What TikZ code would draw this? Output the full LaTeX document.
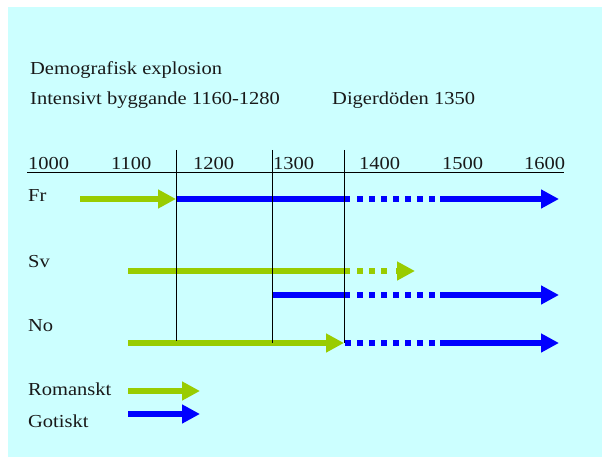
\documentclass[tikz,border=0pt]{standalone}
\usepackage{fontspec}
\setmainfont[FakeStretch=1.12]{Liberation Serif}
\usetikzlibrary{arrows.meta}
\definecolor{bgc}{HTML}{CCFFFF}
\definecolor{rom}{HTML}{99CC00}
\definecolor{got}{HTML}{0000FF}
\begin{document}
\begin{tikzpicture}[x=1pt,y=-1pt,
  lbl/.style={anchor=base west,inner sep=0pt,font=\fontsize{18.3}{20}\selectfont,text=black!90},
  romline/.style={draw=rom,line width=5.5pt},
  gotline/.style={draw=got,line width=5.5pt},
  tip/.style={-{Triangle[length=18pt,width=18pt]}},
  dots/.style={dash pattern=on 6pt off 6pt},
  vline/.style={draw=black,line width=1pt}]
\useasboundingbox (0,0) rectangle (602,457);
\fill[white] (0,0) rectangle (602,457);
\fill[bgc] (8,7) rectangle (602,457);
% texts
\node[lbl] (t1) at (30,75) {Demografisk explosion};
\node[lbl] (t2) at (30,105) {Intensivt byggande 1160-1280};
\node[lbl] (t3) at (332,105) {Digerdöden 1350};
\foreach \x/\y in {28/1000,111/1100,193/1200,273/1300,359/1400,442/1500,524/1600}
  \node[lbl] (y\y) at (\x,170) {\y};
\node[lbl] (fr) at (28,202) {Fr};
\node[lbl] (sv) at (28,267) {Sv};
\node[lbl] (no) at (28,331) {No};
\node[lbl] (rom) at (28,395) {Romanskt};
\node[lbl] (got) at (28,427) {Gotiskt};
% coordinates
\coordinate (ax0) at (27,172.5);
\coordinate (ax1) at (564,172.5);
\coordinate (v1a) at (176,150); \coordinate (v1b) at (176,341);
\coordinate (v2a) at (272,150); \coordinate (v2b) at (272,343);
\coordinate (v3a) at (344,150); \coordinate (v3b) at (344,343);
% axis
\draw[black,line width=1.3pt] (ax0) -- (ax1);
% Fr
\coordinate (fr0) at (80,199); \coordinate (fr1) at (176,199);
\coordinate (fr2) at (350,199); \coordinate (fr3) at (357,199);
\coordinate (fr4) at (435,199); \coordinate (fr5) at (440,199);
\coordinate (fr6) at (559,199);
\draw[romline,tip,color=rom] (fr0) -- (fr1);
\draw[gotline] (fr1) -- (fr2);
\draw[gotline,dots] (fr3) -- (fr4);
\draw[gotline,tip,color=got] (fr5) -- (fr6);
% Sv
\coordinate (sg0) at (128,271); \coordinate (sg1) at (350,271);
\coordinate (sg2) at (357,271); \coordinate (sg3) at (387,271);
\coordinate (sg4) at (396,271); \coordinate (sg5) at (415,271);
\draw[romline] (sg0) -- (sg1);
\draw[romline,dots] (sg2) -- (sg3);
\draw[romline,tip,color=rom] (sg4) -- (sg5);
\coordinate (sb0) at (272,295); \coordinate (sb1) at (350,295);
\coordinate (sb2) at (357,295); \coordinate (sb3) at (435,295);
\coordinate (sb4) at (440,295); \coordinate (sb5) at (559,295);
\draw[gotline] (sb0) -- (sb1);
\draw[gotline,dots] (sb2) -- (sb3);
\draw[gotline,tip,color=got] (sb4) -- (sb5);
% No
\coordinate (ng0) at (128,343); \coordinate (ng1) at (344,343);
\coordinate (nb0) at (345,343); \coordinate (nb1) at (435,343);
\coordinate (nb2) at (440,343); \coordinate (nb3) at (559,343);
\draw[romline,tip,color=rom] (ng0) -- (ng1);
\draw[gotline,dots] (nb0) -- (nb1);
\draw[gotline,tip,color=got] (nb2) -- (nb3);
% verticals
\draw[vline] (v1a) -- (v1b);
\draw[vline] (v2a) -- (v2b);
\draw[vline] (v3a) -- (v3b);
% legend
\coordinate (lr0) at (128,391); \coordinate (lr1) at (200,391);
\coordinate (lg0) at (128,414); \coordinate (lg1) at (200,414);
\draw[romline,tip,color=rom] (lr0) -- (lr1);
\draw[gotline,tip,color=got] (lg0) -- (lg1);
\end{tikzpicture}
\end{document}
